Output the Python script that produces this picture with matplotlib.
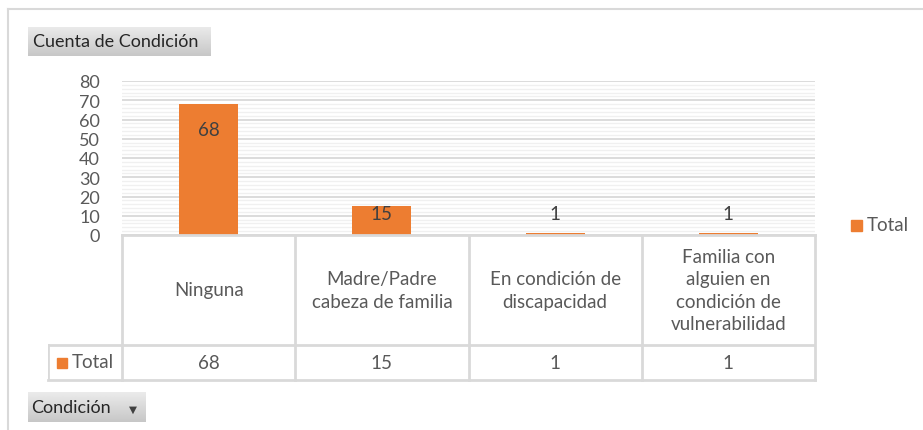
import matplotlib.pyplot as plt
import numpy as np
from matplotlib.patches import Rectangle
from matplotlib.lines import Line2D

plt.rcParams['font.family'] = ['Lato', 'DejaVu Sans']

categorias = ["Ninguna", "Madre/Padre\ncabeza de familia", "En condición de\ndiscapacidad",
              "Familia con\nalguien en\ncondición de\nvulnerabilidad"]
valores = [68, 15, 1, 1]
serie = "Total"
titulo = "Cuenta de Condición"
campo = "Condición"
yticks = [0, 10, 20, 30, 40, 50, 60, 70, 80]

naranja = "#ED7D31"
gris_txt = "#595959"
gris_lin = "#d9d9d9"

W, H = 923, 431
fig = plt.figure(figsize=(W / 100, H / 100), dpi=100)

def fx(px):
    return px / W

def fy(py):
    return 1 - py / H

# marco exterior
fig.add_artist(Line2D([fx(8), fx(922)], [fy(10), fy(10)], color=gris_lin, lw=1.5))
fig.add_artist(Line2D([fx(8), fx(8)], [fy(10), 0], color=gris_lin, lw=1.5))

# grafico de barras
ax = fig.add_axes([fx(122), fy(236), fx(815) - fx(122), fy(82) - fy(236)])
x = np.arange(len(valores))
ax.bar(x, valores, width=0.34, color=naranja, zorder=3)
ax.set_xlim(-0.5, len(valores) - 0.5)
ax.set_ylim(0, 80)
ax.set_yticks(yticks)
ax.set_yticks(np.arange(0, 81, 2), minor=True)
ax.set_yticklabels([str(t) for t in yticks], fontsize=13, color=gris_txt)
ax.tick_params(axis='y', which='both', length=0, pad=16)
ax.set_xticks([])
ax.grid(axis='y', which='minor', color="#f0f0f0", lw=1, zorder=0)
ax.grid(axis='y', which='major', color=gris_lin, lw=1.3, zorder=1)
for s in ax.spines.values():
    s.set_visible(False)
for i, v in enumerate(valores):
    ax.text(i, max(v - 13, 11), str(v), ha='center', va='center', fontsize=13.5, color="#404040", zorder=4)

# tabla de datos
tb = fig.add_axes([fx(48), fy(381), fx(815) - fx(48), fy(236) - fy(381)])
izq = -0.5 - 74 / 173
tb.set_xlim(izq, len(valores) - 0.5)
tb.set_ylim(0, 1)
tb.axis('off')
corte = 35 / 145
tb.plot([-0.5, len(valores) - 0.5], [1, 1], color=gris_lin, lw=2, clip_on=False)
tb.plot([izq, len(valores) - 0.5], [corte, corte], color=gris_lin, lw=2)
tb.plot([izq, len(valores) - 0.5], [0, 0], color=gris_lin, lw=2, clip_on=False)
tb.plot([izq, izq], [0, corte], color=gris_lin, lw=2)
for k in range(len(valores) + 1):
    tb.plot([k - 0.5, k - 0.5], [0, 1], color=gris_lin, lw=2, clip_on=False)
for i, (c, v) in enumerate(zip(categorias, valores)):
    tb.text(i, (1 + corte) / 2, c, ha='center', va='center', fontsize=13.5,
            color=gris_txt, linespacing=1.4)
    tb.text(i, corte / 2, str(v), ha='center', va='center', fontsize=13.5, color=gris_txt)

# celda "Total" de la tabla (en pixeles de figura)
fig.add_artist(Rectangle((fx(57), fy(369)), fx(10), fy(359) - fy(369), color=naranja,
                         transform=fig.transFigure))
fig.text(fx(72), fy(363), serie, ha='left', va='center', fontsize=13.5, color=gris_txt)

# leyenda
fig.add_artist(Rectangle((fx(851), fy(232)), fx(11), fy(221) - fy(232), color=naranja,
                         transform=fig.transFigure))
fig.text(fx(867), fy(226), serie, ha='left', va='center', fontsize=13.5, color=gris_txt)

# botones
def boton(x0, y0, x1, y1, texto, flecha=False):
    b = fig.add_axes([fx(x0), fy(y1), fx(x1) - fx(x0), fy(y0) - fy(y1)])
    grad = np.linspace(0.92, 0.78, 50).reshape(-1, 1)
    b.imshow(grad, cmap='gray', vmin=0, vmax=1, aspect='auto', extent=[0, 1, 0, 1])
    b.set_xlim(0, 1)
    b.set_ylim(0, 1)
    b.axis('off')
    b.text(0.03, 0.5, texto, ha='left', va='center', fontsize=13, color="#262626",
           transform=b.transAxes)
    if flecha:
        b.text(0.89, 0.45, "▼", ha='center', va='center', fontsize=7.5, color="#404040",
               family='DejaVu Sans', transform=b.transAxes)

boton(28, 28, 211, 57, titulo)
boton(28, 393, 146, 423, campo, flecha=True)

fig.savefig("out.png", dpi=100)
